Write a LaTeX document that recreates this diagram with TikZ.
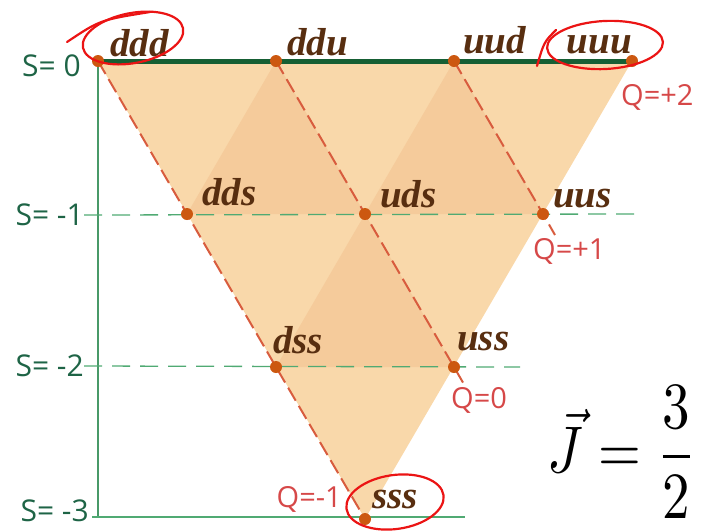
\documentclass[tikz,border=0pt]{standalone}
\usepackage{fontspec}
\usepackage{tikz}
\usetikzlibrary{positioning, backgrounds}
\newfontfamily\quarkfont{Liberation Serif}
\newfontfamily\axisfont{Open Sans}
\definecolor{fillorange}{RGB}{249, 216, 170}
\definecolor{darkorange}{RGB}{245, 203, 155}
\definecolor{dotorange}{RGB}{204, 88, 16}
\definecolor{qred}{RGB}{216, 92, 62}
\definecolor{labelred}{RGB}{214, 72, 72}
\definecolor{quarkbrown}{RGB}{88, 46, 16}
\definecolor{axisgreen}{RGB}{30, 100, 70}
\definecolor{linegreen}{RGB}{80, 170, 115}
\definecolor{topgreen}{RGB}{22, 95, 52}
\definecolor{markred}{RGB}{235, 20, 20}

\begin{document}
\begin{tikzpicture}[x=1pt, y=-1pt,
    quark/.style={circle, fill=dotorange, inner sep=0pt, minimum size=12pt},
    qname/.style={font=\quarkfont\bfseries\itshape\fontsize{39}{40}\selectfont,
                  text=quarkbrown, inner sep=0pt, anchor=base west},
    slabel/.style={font=\axisfont\fontsize{30}{32}\selectfont, text=axisgreen,
                   inner sep=0pt, anchor=east},
    qlabel/.style={font=\axisfont\fontsize{29}{32}\selectfont, text=labelred,
                   inner sep=0pt},
    qline/.style={draw=qred, line width=2pt, dash pattern=on 15pt off 6pt},
    sline/.style={draw=linegreen, line width=1.3pt, dash pattern=on 18pt off 10pt},
    circled/.style={draw=markred, line width=2.2pt, line cap=round}
]
    \useasboundingbox (0,0) rectangle (711,531);

    % Row S=0
    \node[quark] (ddd) at (98,61) {};
    \node[quark] (ddu) at (276,61) {};
    \node[quark] (uud) at (454,61) {};
    \node[quark] (uuu) at (632,61) {};
    % Row S=-1
    \node[quark] (dds) at (187,214) {};
    \node[quark] (uds) at (365,214) {};
    \node[quark] (uus) at (543,214) {};
    % Row S=-2
    \node[quark] (dss) at (276,367) {};
    \node[quark] (uss) at (454,367) {};
    % Row S=-3
    \node[quark] (sss) at (365,519) {};

    % Strangeness labels
    \node[slabel] (s0) at (81,66) {S= 0};
    \node[slabel] (s1) at (84,215) {S= -1};
    \node[slabel] (s2) at (84,366) {S= -2};
    \node[slabel, anchor=south east] (s3) at (89,522) {S= -3};

    % free ends of the lines
    \coordinate (s1end) at (636,214);
    \coordinate (s2end) at (520,367);
    \coordinate (s3start) at (92,517);
    \coordinate (s3end) at (465,517);
    \coordinate (axisend) at (98,517);
    \coordinate (q0end) at (465,386);
    \coordinate (q1end) at (555,235);

    \begin{scope}[on background layer]
        \fill[fillorange] (ddd.center) -- (uuu.center) -- (sss.center) -- cycle;
        \fill[darkorange] (dds.center) -- (ddu.center) -- (uds.center) -- cycle;
        \fill[darkorange] (uds.center) -- (uud.center) -- (uus.center) -- cycle;
        \fill[darkorange] (dss.center) -- (uds.center) -- (uss.center) -- cycle;

        \draw[linegreen!90!black, line width=1.2pt] (ddd.center) -- (axisend);
        \draw[sline] (s1.east) -- (s1end);
        \draw[sline] (s2.east) -- (s2end);
        \draw[linegreen, line width=1.4pt] (s3start) -- (s3end);
        \draw[topgreen, line width=5pt] (ddd.center) -- (uuu.center);

        \draw[qline] (ddd.center) -- (dds.center) -- (dss.center) -- (sss.center);
        \draw[qline] (ddu.center) -- (uds.center) -- (uss.center) -- (q0end);
        \draw[qline] (uud.center) -- (uus.center) -- (q1end);
    \end{scope}

    % Quark contents
    \node[qname] (tddd) at ([xshift=12pt, yshift=5pt]ddd) {ddd};
    \node[qname] (tddu) at ([xshift=11pt, yshift=6pt]ddu) {ddu};
    \node[qname] (tuud) at ([xshift=9pt, yshift=8pt]uud) {uud};
    \node[qname, anchor=base east] (tuuu) at ([xshift=0pt, yshift=8pt]uuu) {uuu};
    \node[qname] (tdds) at ([xshift=15pt, yshift=9pt]dds) {dds};
    \node[qname] (tuds) at ([xshift=15pt, yshift=7pt]uds) {uds};
    \node[qname] (tuus) at ([xshift=10pt, yshift=7pt]uus) {uus};
    \node[qname] (tdss) at ([xshift=-3pt, yshift=14pt]dss) {dss};
    \node[qname] (tuss) at ([xshift=3pt, yshift=17pt]uss) {uss};
    \node[qname] (tsss) at ([xshift=7pt, yshift=11pt]sss) {sss};

    % Charge labels
    \node[qlabel, anchor=west] (qp2) at (621,97) {Q=+2};
    \node[qlabel, anchor=west] (qp1) at (533,251) {Q=+1};
    \node[qlabel, anchor=west] (q0) at (451,400) {Q=0};
    \node[qlabel, anchor=east] (qm1) at (342,499) {Q=-1};

    % Spin
    \node[xscale=5.5, yscale=6.6] (spin) at (622,452) {$\displaystyle\vec{J}=\frac{3}{2}$};

    % Hand marks
    \draw[circled, rotate around={11:(133,38)}] (133,38) ellipse [x radius=51pt, y radius=25pt];
    \draw[circled] (67,42) .. controls (100,20) .. (150,12);
    \draw[circled, rotate around={3:(605,45)}] (605,45) ellipse [x radius=58pt, y radius=24pt];
    \draw[circled] (537,66) .. controls (544,42) .. (556,30);
    \draw[circled, rotate around={8:(395,502)}] (395,502) ellipse [x radius=49pt, y radius=27pt];
\end{tikzpicture}
\end{document}
